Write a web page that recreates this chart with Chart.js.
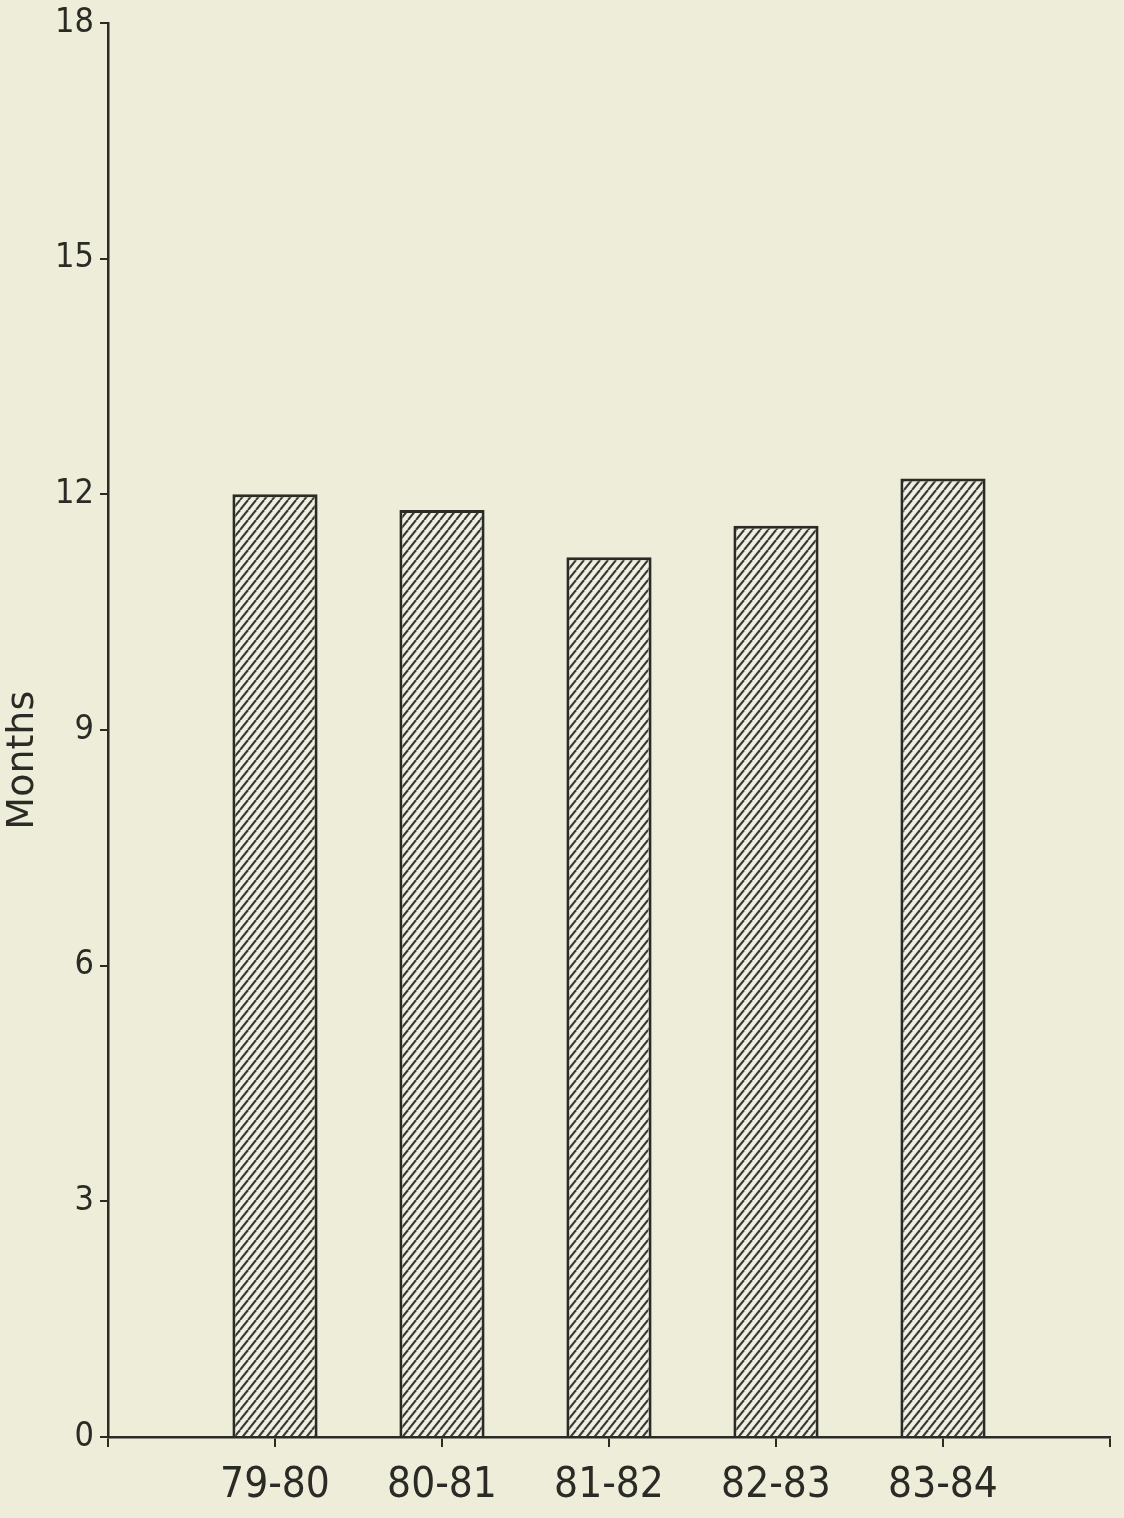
<!DOCTYPE html>
<html>
<head>
<meta charset="utf-8">
<script src="https://cdn.jsdelivr.net/npm/chart.js@4.4.1/dist/chart.umd.min.js"></script>
<style>
	html, body { margin: 0; padding: 0; background: #ededd9; }
	canvas { display: block; }
</style>
</head>
<body>
<canvas id="chart" width="1124" height="1518"></canvas>
<script>
// school years (blank slots at both ends keep the axis running past the bars)
const seasons = ['', '79-80', '80-81', '81-82', '82-83', '83-84', ''];
const months = [null, 12.0, 11.8, 11.2, 11.6, 12.2, null];
const yTicks = [0, 3, 6, 9, 12, 15, 18];

const ink = '#2b2b26';
const paper = '#ededd9';
const narrow = "'Liberation Sans Narrow', 'DejaVu Sans Condensed', sans-serif";

// hatch fill for the bars
function makeHatch() {
	const w = 8, h = 10;
	const c = document.createElement('canvas');
	c.width = w;
	c.height = h;
	const g = c.getContext('2d');
	g.fillStyle = '#efefe3';
	g.fillRect(0, 0, w, h);
	g.strokeStyle = '#3a3a32';
	g.lineWidth = 2.1;
	[-w, 0, w].forEach(dx => {
		g.beginPath();
		g.moveTo(dx, h);
		g.lineTo(dx + w, 0);
		g.stroke();
	});
	return g.createPattern(c, 'repeat');
}

const bg = {
	id: 'bg',
	beforeDraw(chart) {
		const ctx = chart.ctx;
		ctx.save();
		ctx.fillStyle = paper;
		ctx.fillRect(0, 0, chart.width, chart.height);
		ctx.restore();
	}
};

new Chart(document.getElementById('chart'), {
	type: 'bar',
	data: {
		labels: seasons,
		datasets: [{
			data: months,
			backgroundColor: makeHatch(),
			borderColor: ink,
			borderWidth: 3,
			borderSkipped: 'bottom',
			categoryPercentage: 1,
			barPercentage: 0.51
		}]
	},
	plugins: [bg],
	options: {
		responsive: false,
		animation: false,
		layout: { padding: { top: 0, right: 12, left: 0, bottom: 0 } },
		plugins: {
			legend: { display: false },
			tooltip: { enabled: false }
		},
		scales: {
			x: {
				offset: false,
				grid: {
					offset: false,
					drawOnChartArea: false,
					color: ink,
					lineWidth: 2,
					tickLength: 10
				},
				border: { display: true, color: ink, width: 2.5 },
				ticks: {
					color: ink,
					padding: 14,
					maxRotation: 0,
					font: { family: narrow, size: 42 }
				},
				afterFit(scale) { scale.height = 81; }
			},
			y: {
				min: 0,
				max: 18,
				afterBuildTicks(scale) {
					scale.ticks = yTicks.map(v => ({ value: v }));
				},
				grid: {
					drawOnChartArea: false,
					color: ink,
					lineWidth: 2,
					tickLength: 8
				},
				border: { display: true, color: ink, width: 2.5 },
				ticks: {
					color: ink,
					padding: 6,
					font: { family: narrow, size: 34, lineHeight: 1.0 }
				},
				title: {
					display: true,
					text: 'Months     ',
					color: ink,
					padding: { top: 0, bottom: 0 },
					font: { family: "'DejaVu Sans', sans-serif", size: 38 }
				},
				afterFit(scale) { scale.width = 108; }
			}
		}
	}
});
</script>
</body>
</html>
